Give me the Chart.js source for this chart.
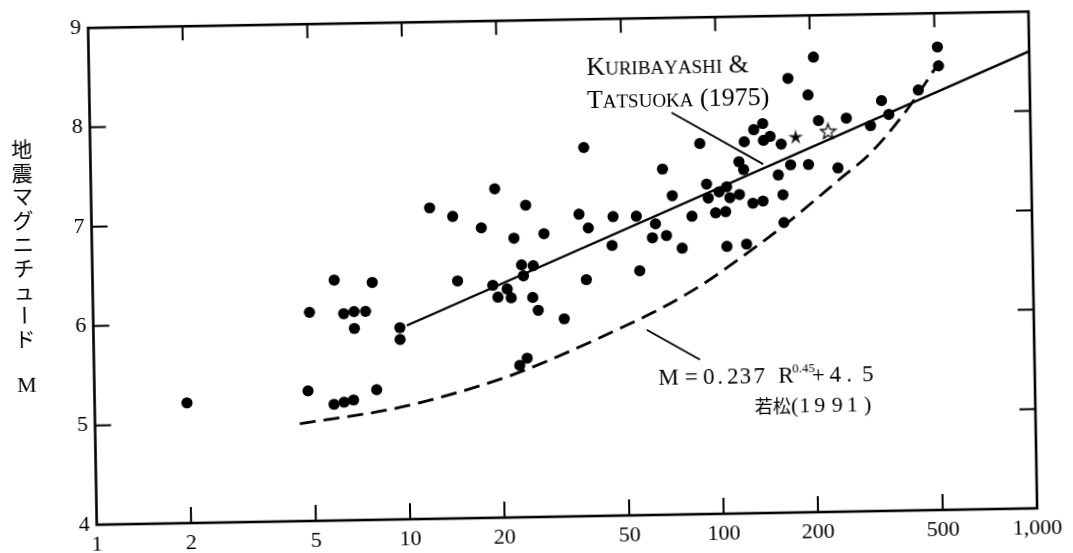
<!DOCTYPE html>
<html>
<head>
<meta charset="utf-8">
<title>地震マグニチュードと距離</title>
<script src="https://cdn.jsdelivr.net/npm/chart.js@4.4.1/dist/chart.umd.min.js"></script>
<style>
  html, body { margin: 0; padding: 0; background: #fff; overflow: hidden; }
  #wrap { width: 1073px; height: 553px; transform: rotate(-1deg); transform-origin: 50% 50%; }
</style>
</head>
<body>
<div id="wrap"><canvas id="quakeChart" width="1073" height="553"></canvas></div>
<script>
// observed events: distance R (km) and magnitude M
const distR = [1.97, 4.9, 4.8, 5.9, 5.8, 6.3, 6.25, 6.8, 6.8, 6.7, 7.4, 7.8, 7.95, 9.5, 9.5,
  12, 14.2, 17.5, 19.4, 14.6, 18.9, 19.6, 21, 21.6, 23.4, 25.5, 23.7, 24.3, 22.2, 27.7,
  25.3, 26.3, 31.8, 37.6, 55.7, 24.1, 22.8, 37.5, 35.9, 38.4, 46.1, 54.7, 45.6, 62.9, 61.4,
  68.1, 66.7, 71.4, 76.3, 82.3, 88, 92, 93, 100.7, 106.6, 109, 117, 98, 105.5, 106,
  122.5, 129, 139, 117, 121, 122, 131, 140, 140.5, 147.6, 160, 156, 161, 171, 195,
  161.6, 169.5, 205, 196, 211, 242, 259, 336, 309, 354, 441, 510, 513];
const magM = [5.21, 6.10, 5.31, 6.42, 5.17, 6.08, 5.19, 6.10, 5.93, 5.21, 6.10, 6.39, 5.31, 5.93, 5.81,
  7.13, 7.04, 6.92, 7.31, 6.39, 6.34, 6.22, 6.30, 6.21, 6.54, 6.53, 6.43, 7.14, 6.81, 6.85,
  6.21, 6.08, 5.99, 6.38, 6.46, 5.60, 5.53, 7.71, 7.04, 6.90, 7.01, 7.01, 6.72, 6.93, 6.79,
  6.81, 7.48, 7.21, 6.68, 7.00, 7.73, 7.32, 7.18, 7.24, 7.29, 7.18, 7.21, 7.03, 7.04, 6.69,
  6.71, 7.12, 7.14, 7.54, 7.46, 7.74, 7.86, 7.92, 7.75, 7.79, 7.71, 7.40, 7.20, 7.50, 7.50,
  6.92, 8.37, 8.58, 8.20, 7.94, 7.46, 7.96, 8.13, 7.88, 7.99, 8.23, 8.66, 8.47];

// star marks
const starFilledR = [178], starFilledM = [7.78];
const starOpenR = [226], starOpenM = [7.83];

// Kuribayashi & Tatsuoka (1975)
const kuriR = [10, 1000];
const kuriM = [5.95, 8.6];

// 若松 (1991) dashed curve
const wakaR = [4.5, 9.5, 20, 28, 55, 66, 88, 105, 160, 250, 307, 404, 520];
const wakaM = [4.98, 5.13, 5.40, 5.57, 5.97, 6.09, 6.31, 6.47, 6.88, 7.37, 7.60, 8.03, 8.52];

const xTicks = [1, 2, 5, 10, 20, 50, 100, 200, 500, 1000];
const yInnerTicks = [5, 6, 7, 8];
const yTitle = '地震マグニチュード';

// annotation anchors in data units
const annot = {
  kuri1: [38.6, 8.44],
  kuri2: [38.6, 8.106],
  kuriLeader: [[71.8, 8.045], [139.8, 7.511]],
  formula: [62.9, 5.31],
  waka: [127.4, 5.01],
  wakaLeader: [[58.2, 5.865], [85.7, 5.554]]
};

const toXY = (xs, ys) => xs.map((v, i) => ({ x: v, y: ys[i] }));
const serif = '"Liberation Serif", "DejaVu Serif", serif';

function starImage(filled) {
  const c = document.createElement('canvas');
  c.width = c.height = 18;
  const g = c.getContext('2d');
  g.beginPath();
  for (let i = 0; i < 10; i++) {
    const r = i % 2 ? (filled ? 2.6 : 3.4) : 8;
    const a = -Math.PI / 2 + i * Math.PI / 5;
    g.lineTo(9 + r * Math.cos(a), 9.5 + r * Math.sin(a));
  }
  g.closePath();
  if (filled) {
    g.fillStyle = '#000';
    g.fill();
  } else {
    g.lineWidth = 1.3;
    g.strokeStyle = '#000';
    g.stroke();
  }
  return c;
}

function smallCaps(ctx, text, x, y, big, small) {
  for (const ch of text) {
    const lower = ch !== ch.toUpperCase();
    const c = ch.toUpperCase();
    ctx.font = (lower ? small : big) + 'px ' + serif;
    ctx.fillText(c, x, y);
    x += ctx.measureText(c).width;
  }
}

// pieces: [text, offset, align, font, rise]
function pieces(ctx, list, x0, y0) {
  list.forEach(([t, dx, align, font, rise]) => {
    ctx.font = font;
    ctx.textAlign = align;
    ctx.fillText(t, x0 + dx, y0 - (rise || 0));
  });
}

const paperPlugin = {
  id: 'paper',
  afterDraw(chart) {
    const { ctx, chartArea: a, scales: { x, y } } = chart;
    const px = p => [x.getPixelForValue(p[0]), y.getPixelForValue(p[1])];
    ctx.save();
    ctx.strokeStyle = '#000';
    ctx.fillStyle = '#000';

    // frame and inward ticks
    ctx.lineWidth = 2.6;
    ctx.strokeRect(a.left, a.top, a.right - a.left, a.bottom - a.top);
    ctx.lineWidth = 2;
    ctx.beginPath();
    xTicks.slice(1, -1).forEach(v => {
      const p = x.getPixelForValue(v);
      ctx.moveTo(p, a.bottom); ctx.lineTo(p, a.bottom - 16);
      ctx.moveTo(p, a.top); ctx.lineTo(p, a.top + 14);
    });
    yInnerTicks.forEach(v => {
      const p = y.getPixelForValue(v);
      ctx.moveTo(a.left, p); ctx.lineTo(a.left + 16, p);
      ctx.moveTo(a.right, p); ctx.lineTo(a.right - 16, p);
    });
    ctx.stroke();

    // leader lines
    ctx.lineWidth = 1.8;
    [annot.kuriLeader, annot.wakaLeader].forEach(seg => {
      const [p0, p1] = seg.map(px);
      ctx.beginPath();
      ctx.moveTo(p0[0], p0[1]);
      ctx.lineTo(p1[0], p1[1]);
      ctx.stroke();
    });

    // Kuribayashi label
    ctx.textAlign = 'left';
    ctx.textBaseline = 'alphabetic';
    let p = px(annot.kuri1);
    smallCaps(ctx, 'Kuribayashi &', p[0], p[1], 26, 19);
    p = px(annot.kuri2);
    smallCaps(ctx, 'Tatsuoka (1975)', p[0], p[1], 26, 19);

    // formula label
    const f23 = '23px ' + serif;
    p = px(annot.formula);
    pieces(ctx, [
      ['M', 0, 'left', f23], ['=', 33, 'center', f23],
      ['0', 50.5, 'center', f23], ['.', 62, 'center', f23], ['2', 74.5, 'center', f23],
      ['3', 87, 'center', f23], ['7', 101, 'center', f23],
      ['R', 120, 'left', f23], ['0.45', 134, 'left', '13px ' + serif, 10],
      ['+', 160, 'center', f23],
      ['4', 177, 'center', f23], ['.', 191, 'center', f23], ['5', 209.5, 'center', f23]
    ], p[0], p[1]);

    p = px(annot.waka);
    const f22 = '22px ' + serif;
    pieces(ctx, [
      ['若松', 0, 'left', '18px "Noto Sans CJK JP"'],
      ['(', 40, 'center', f22], ['1', 50, 'center', f22], ['9', 65, 'center', f22],
      ['9', 82.5, 'center', f22], ['1', 97.5, 'center', f22], [')', 113, 'center', f22]
    ], p[0], p[1]);

    // vertical axis title
    ctx.textAlign = 'center';
    ctx.textBaseline = 'middle';
    ctx.font = '21px "Noto Sans CJK JP"';
    Array.from(yTitle).forEach((ch, i) => {
      const cy = 140 + i * 23.75;
      if (ch === 'ー') {
        ctx.save();
        ctx.translate(24, cy);
        ctx.rotate(Math.PI / 2);
        ctx.fillText(ch, 0, 0);
        ctx.restore();
      } else {
        ctx.fillText(ch, 24, cy);
      }
    });
    ctx.font = '22px ' + serif;
    ctx.fillText('M', 25, 377);
    ctx.restore();
  }
};

new Chart(document.getElementById('quakeChart'), {
  type: 'scatter',
  data: {
    datasets: [
      {
        data: toXY(distR, magM),
        pointRadius: 5.6,
        pointBackgroundColor: '#000',
        pointBorderWidth: 0,
        order: 1
      },
      {
        data: toXY(starFilledR, starFilledM),
        pointStyle: starImage(true),
        order: 1
      },
      {
        data: toXY(starOpenR, starOpenM),
        pointStyle: starImage(false),
        order: 1
      },
      {
        data: toXY(kuriR, kuriM),
        showLine: true,
        borderColor: '#000',
        borderWidth: 2.4,
        pointRadius: 0,
        order: 2
      },
      {
        data: toXY(wakaR, wakaM),
        showLine: true,
        borderColor: '#000',
        borderWidth: 2.8,
        borderDash: [16, 8],
        cubicInterpolationMode: 'monotone',
        pointRadius: 0,
        order: 2
      }
    ]
  },
  options: {
    responsive: false,
    animation: false,
    devicePixelRatio: 1,
    layout: { padding: { left: 0, right: 40, top: 19, bottom: 0 } },
    plugins: { legend: { display: false }, tooltip: { enabled: false } },
    scales: {
      x: {
        type: 'logarithmic',
        min: 1,
        max: 1000,
        afterBuildTicks: s => { s.ticks = xTicks.map(v => ({ value: v })); },
        afterFit: s => { s.height = 36; },
        grid: { display: false, drawTicks: false },
        border: { display: false },
        ticks: {
          autoSkip: false,
          maxRotation: 0,
          padding: 7,
          color: '#000',
          font: { family: 'Liberation Serif', size: 22 },
          callback: v => v === 1000 ? '1,000' : String(v)
        }
      },
      y: {
        min: 4,
        max: 9,
        afterFit: s => { s.width = 92.5; },
        grid: { display: false, drawTicks: false },
        border: { display: false },
        ticks: {
          stepSize: 1,
          padding: 7,
          color: '#000',
          font: { family: 'Liberation Serif', size: 22 }
        }
      }
    }
  },
  plugins: [paperPlugin]
});
</script>
</body>
</html>
